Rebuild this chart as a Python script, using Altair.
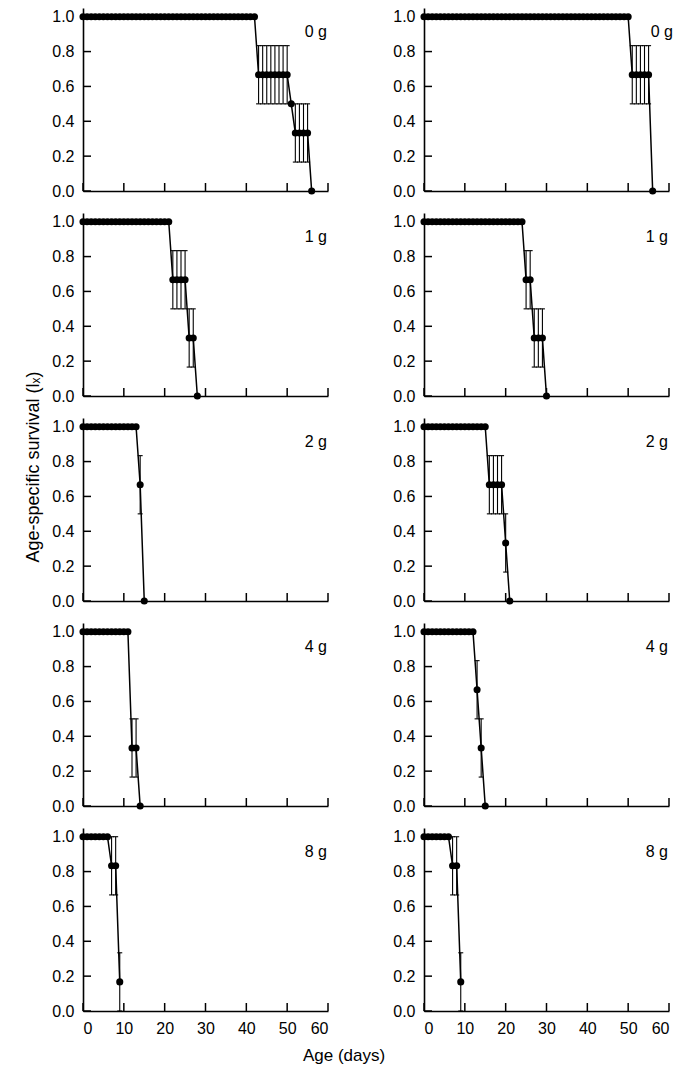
import altair as alt
import pandas as pd

FONT = "Liberation Sans"
W, H = 245, 183
YMAX = 1.05

x_ticks = [0, 10, 20, 30, 40, 50, 60]
y_ticks = [0.0, 0.2, 0.4, 0.6, 0.8, 1.0]
panel_labels = ["0 g", "1 g", "2 g", "4 g", "8 g"]
y_title = "Age-specific survival (lₓ)"
x_title = "Age (days)"

# ---------------- 0 g ----------------
age_0g_L = [0, 1, 2, 3, 4, 5, 6, 7, 8, 9, 10, 11, 12, 13, 14, 15, 16, 17, 18, 19,
            20, 21, 22, 23, 24, 25, 26, 27, 28, 29, 30, 31, 32, 33, 34, 35, 36, 37, 38, 39,
            40, 41, 42, 43, 44, 45, 46, 47, 48, 49, 50, 51, 52, 53, 54, 55, 56]
lx_0g_L = [1.0, 1.0, 1.0, 1.0, 1.0, 1.0, 1.0, 1.0, 1.0, 1.0,
           1.0, 1.0, 1.0, 1.0, 1.0, 1.0, 1.0, 1.0, 1.0, 1.0,
           1.0, 1.0, 1.0, 1.0, 1.0, 1.0, 1.0, 1.0, 1.0, 1.0,
           1.0, 1.0, 1.0, 1.0, 1.0, 1.0, 1.0, 1.0, 1.0, 1.0,
           1.0, 1.0, 1.0,
           0.667, 0.667, 0.667, 0.667, 0.667, 0.667, 0.667, 0.667,
           0.5,
           0.333, 0.333, 0.333, 0.333,
           0.0]
se_0g_L = [0, 0, 0, 0, 0, 0, 0, 0, 0, 0,
           0, 0, 0, 0, 0, 0, 0, 0, 0, 0,
           0, 0, 0, 0, 0, 0, 0, 0, 0, 0,
           0, 0, 0, 0, 0, 0, 0, 0, 0, 0,
           0, 0, 0,
           0.167, 0.167, 0.167, 0.167, 0.167, 0.167, 0.167, 0.167,
           0,
           0.167, 0.167, 0.167, 0.167,
           0]

age_0g_R = [0, 1, 2, 3, 4, 5, 6, 7, 8, 9, 10, 11, 12, 13, 14, 15, 16, 17, 18, 19,
            20, 21, 22, 23, 24, 25, 26, 27, 28, 29, 30, 31, 32, 33, 34, 35, 36, 37, 38, 39,
            40, 41, 42, 43, 44, 45, 46, 47, 48, 49, 50, 51, 52, 53, 54, 55, 56]
lx_0g_R = [1.0, 1.0, 1.0, 1.0, 1.0, 1.0, 1.0, 1.0, 1.0, 1.0,
           1.0, 1.0, 1.0, 1.0, 1.0, 1.0, 1.0, 1.0, 1.0, 1.0,
           1.0, 1.0, 1.0, 1.0, 1.0, 1.0, 1.0, 1.0, 1.0, 1.0,
           1.0, 1.0, 1.0, 1.0, 1.0, 1.0, 1.0, 1.0, 1.0, 1.0,
           1.0, 1.0, 1.0, 1.0, 1.0, 1.0, 1.0, 1.0, 1.0, 1.0,
           1.0,
           0.667, 0.667, 0.667, 0.667, 0.667,
           0.0]
se_0g_R = [0, 0, 0, 0, 0, 0, 0, 0, 0, 0,
           0, 0, 0, 0, 0, 0, 0, 0, 0, 0,
           0, 0, 0, 0, 0, 0, 0, 0, 0, 0,
           0, 0, 0, 0, 0, 0, 0, 0, 0, 0,
           0, 0, 0, 0, 0, 0, 0, 0, 0, 0,
           0,
           0.167, 0.167, 0.167, 0.167, 0.167,
           0]

# ---------------- 1 g ----------------
age_1g_L = [0, 1, 2, 3, 4, 5, 6, 7, 8, 9, 10, 11, 12, 13, 14, 15, 16, 17, 18, 19,
            20, 21, 22, 23, 24, 25, 26, 27, 28]
lx_1g_L = [1.0, 1.0, 1.0, 1.0, 1.0, 1.0, 1.0, 1.0, 1.0, 1.0,
           1.0, 1.0, 1.0, 1.0, 1.0, 1.0, 1.0, 1.0, 1.0, 1.0,
           1.0, 1.0,
           0.667, 0.667, 0.667, 0.667,
           0.333, 0.333,
           0.0]
se_1g_L = [0, 0, 0, 0, 0, 0, 0, 0, 0, 0,
           0, 0, 0, 0, 0, 0, 0, 0, 0, 0,
           0, 0,
           0.167, 0.167, 0.167, 0.167,
           0.167, 0.167,
           0]

age_1g_R = [0, 1, 2, 3, 4, 5, 6, 7, 8, 9, 10, 11, 12, 13, 14, 15, 16, 17, 18, 19,
            20, 21, 22, 23, 24, 25, 26, 27, 28, 29, 30]
lx_1g_R = [1.0, 1.0, 1.0, 1.0, 1.0, 1.0, 1.0, 1.0, 1.0, 1.0,
           1.0, 1.0, 1.0, 1.0, 1.0, 1.0, 1.0, 1.0, 1.0, 1.0,
           1.0, 1.0, 1.0, 1.0, 1.0,
           0.667, 0.667,
           0.333, 0.333, 0.333,
           0.0]
se_1g_R = [0, 0, 0, 0, 0, 0, 0, 0, 0, 0,
           0, 0, 0, 0, 0, 0, 0, 0, 0, 0,
           0, 0, 0, 0, 0,
           0.167, 0.167,
           0.167, 0.167, 0.167,
           0]

# ---------------- 2 g ----------------
age_2g_L = [0, 1, 2, 3, 4, 5, 6, 7, 8, 9, 10, 11, 12, 13, 14, 15]
lx_2g_L = [1.0, 1.0, 1.0, 1.0, 1.0, 1.0, 1.0, 1.0, 1.0, 1.0,
           1.0, 1.0, 1.0, 1.0,
           0.667,
           0.0]
se_2g_L = [0, 0, 0, 0, 0, 0, 0, 0, 0, 0,
           0, 0, 0, 0,
           0.167,
           0]

age_2g_R = [0, 1, 2, 3, 4, 5, 6, 7, 8, 9, 10, 11, 12, 13, 14, 15, 16, 17, 18, 19,
            20, 21]
lx_2g_R = [1.0, 1.0, 1.0, 1.0, 1.0, 1.0, 1.0, 1.0, 1.0, 1.0,
           1.0, 1.0, 1.0, 1.0, 1.0, 1.0,
           0.667, 0.667, 0.667, 0.667,
           0.333,
           0.0]
se_2g_R = [0, 0, 0, 0, 0, 0, 0, 0, 0, 0,
           0, 0, 0, 0, 0, 0,
           0.167, 0.167, 0.167, 0.167,
           0.167,
           0]

# ---------------- 4 g ----------------
age_4g_L = [0, 1, 2, 3, 4, 5, 6, 7, 8, 9, 10, 11, 12, 13, 14]
lx_4g_L = [1.0, 1.0, 1.0, 1.0, 1.0, 1.0, 1.0, 1.0, 1.0, 1.0,
           1.0, 1.0,
           0.333, 0.333,
           0.0]
se_4g_L = [0, 0, 0, 0, 0, 0, 0, 0, 0, 0,
           0, 0,
           0.167, 0.167,
           0]

age_4g_R = [0, 1, 2, 3, 4, 5, 6, 7, 8, 9, 10, 11, 12, 13, 14, 15]
lx_4g_R = [1.0, 1.0, 1.0, 1.0, 1.0, 1.0, 1.0, 1.0, 1.0, 1.0,
           1.0, 1.0, 1.0,
           0.667,
           0.333,
           0.0]
se_4g_R = [0, 0, 0, 0, 0, 0, 0, 0, 0, 0,
           0, 0, 0,
           0.167,
           0.167,
           0]

# ---------------- 8 g ----------------
age_8g_L = [0, 1, 2, 3, 4, 5, 6, 7, 8, 9]
lx_8g_L = [1.0, 1.0, 1.0, 1.0, 1.0, 1.0, 1.0, 0.833, 0.833, 0.167]
se_8g_L = [0, 0, 0, 0, 0, 0, 0, 0.167, 0.167, 0.167]

age_8g_R = [0, 1, 2, 3, 4, 5, 6, 7, 8, 9]
lx_8g_R = [1.0, 1.0, 1.0, 1.0, 1.0, 1.0, 1.0, 0.833, 0.833, 0.167]
se_8g_R = [0, 0, 0, 0, 0, 0, 0, 0.167, 0.167, 0.167]


xs = alt.Scale(domain=[0, 60], nice=False, zero=False)
ys = alt.Scale(domain=[0, YMAX], nice=False, zero=False)


def panel(age, lx, se, label, bottom=False, ytitle=False, xtitle=False, label_dx=0):
    df = pd.DataFrame({"age": age, "lx": lx, "se": se})
    df["lo"] = df["lx"] - df["se"]
    df["hi"] = df["lx"] + df["se"]
    err = df[df["se"] > 0]

    xaxis = alt.Axis(values=x_ticks, ticks=False, grid=False, domainColor="black",
                     domainWidth=1.6, labels=bottom, labelFontSize=16, labelFont=FONT,
                     labelColor="black", labelPadding=9, title=None)
    yaxis = alt.Axis(values=y_ticks, format=".1f", ticks=False, grid=False,
                     domainColor="black", domainWidth=1.6, labelFontSize=16,
                     labelFont=FONT, labelColor="black", labelPadding=9, title=None)

    def X(f):
        return alt.X(f, scale=xs, axis=xaxis, title=None)

    def Y(f):
        return alt.Y(f, scale=ys, axis=yaxis, title=None)

    line = alt.Chart(df).mark_line(color="black", strokeWidth=1.5).encode(
        x=X("age:Q"), y=Y("lx:Q"))
    bars = alt.Chart(err).mark_rule(color="black", strokeWidth=1.1).encode(
        x=X("age:Q"), y=Y("lo:Q"), y2="hi:Q")
    cap_lo = alt.Chart(err).mark_tick(color="black", orient="horizontal", size=5,
                                      thickness=1.1, opacity=1).encode(
        x=X("age:Q"), y=Y("lo:Q"))
    cap_hi = alt.Chart(err).mark_tick(color="black", orient="horizontal", size=5,
                                      thickness=1.1, opacity=1).encode(
        x=X("age:Q"), y=Y("hi:Q"))
    pts = alt.Chart(df).mark_circle(color="black", size=50, opacity=1).encode(
        x=X("age:Q"), y=Y("lx:Q"))

    xt = alt.Chart(pd.DataFrame({"t": x_ticks})).mark_rule(
        color="black", strokeWidth=1.5).encode(
        x=X("t:Q"), y=alt.value(H), y2=alt.value(H - 8))
    yt = alt.Chart(pd.DataFrame({"t": y_ticks})).mark_rule(
        color="black", strokeWidth=1.5).encode(
        y=Y("t:Q"), x=alt.value(0), x2=alt.value(8))

    lab = alt.Chart(pd.DataFrame({"t": [label]})).mark_text(
        align="right", baseline="middle", fontSize=16, font=FONT, color="black",
        dx=label_dx).encode(text="t:N", x=alt.value(W - 1), y=alt.value(24))

    layers = [xt, yt, line, bars, cap_lo, cap_hi, pts, lab]

    if ytitle:
        layers.append(alt.Chart(pd.DataFrame({"t": [y_title]})).mark_text(
            align="center", baseline="middle", angle=270, fontSize=18, font=FONT,
            color="black").encode(text="t:N", x=alt.value(-49), y=alt.value(49)))
    if xtitle:
        layers.append(alt.Chart(pd.DataFrame({"t": [x_title]})).mark_text(
            align="center", baseline="middle", fontSize=17, font=FONT,
            color="black").encode(text="t:N", x=alt.value(261), y=alt.value(H + 45)))

    return alt.layer(*layers).properties(width=W, height=H)


panels = [
    panel(age_0g_L, lx_0g_L, se_0g_L, panel_labels[0]),
    panel(age_0g_R, lx_0g_R, se_0g_R, panel_labels[0], label_dx=5),
    panel(age_1g_L, lx_1g_L, se_1g_L, panel_labels[1]),
    panel(age_1g_R, lx_1g_R, se_1g_R, panel_labels[1]),
    panel(age_2g_L, lx_2g_L, se_2g_L, panel_labels[2], ytitle=True),
    panel(age_2g_R, lx_2g_R, se_2g_R, panel_labels[2]),
    panel(age_4g_L, lx_4g_L, se_4g_L, panel_labels[3]),
    panel(age_4g_R, lx_4g_R, se_4g_R, panel_labels[3]),
    panel(age_8g_L, lx_8g_L, se_8g_L, panel_labels[4], bottom=True, xtitle=True),
    panel(age_8g_R, lx_8g_R, se_8g_R, panel_labels[4], bottom=True),
]

chart = alt.concat(*panels, columns=2, spacing={"row": 22, "column": 96},
                   bounds="flush").properties(
    padding={"left": 16, "top": 0, "right": 0, "bottom": 0},
    background="white",
).configure_view(stroke=None)

chart.save("out.html", embed_options={"renderer": "svg", "actions": False})
